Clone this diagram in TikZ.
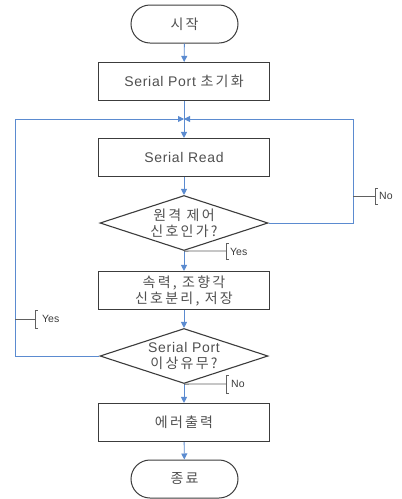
\documentclass[tikz,border=0pt]{standalone}
\usepackage{fontspec}
\setmainfont[LetterSpace=5]{Liberation Sans}
\newfontfamily\kr[LetterSpace=16]{Noto Sans CJK KR}
\newfontfamily\notefont{Liberation Sans}
\usetikzlibrary{arrows.meta,shapes.geometric,shapes.misc}
\definecolor{flowblue}{HTML}{5B8BD0}
\definecolor{edgegray}{HTML}{3C3C3C}
\definecolor{textgray}{HTML}{505050}
\definecolor{notegray}{HTML}{606060}
\tikzset{
  body/.style={font=\fontsize{14}{16}\selectfont, text=textgray, align=center, inner sep=0pt},
  stepbox/.style={body, draw=edgegray, line width=1.1pt, minimum width=171pt, minimum height=38pt},
  terminal/.style={body, draw=edgegray, line width=1pt, rounded rectangle, minimum width=107pt, minimum height=38pt},
  decision/.style={body, draw=edgegray, line width=1.1pt, diamond, aspect=3, minimum width=168pt, minimum height=55pt},
  flow/.style={draw=flowblue, line width=0.9pt, -{Triangle[length=6pt,width=6pt]}},
  flowline/.style={draw=flowblue, line width=0.9pt},
  note/.style={draw=notegray, line width=0.9pt},
  notetext/.style={font=\notefont\fontsize{10.5}{12}\selectfont, text=edgegray, inner sep=0pt, anchor=west}
}
\begin{document}
\begin{tikzpicture}[x=1pt,y=-1pt]
\useasboundingbox[fill=white] (0,0) rectangle (402,499);

% main column
\node[terminal] (start) at (184.5,24) {\kr 시작};
\node[stepbox] (init) at (184,81.5) {Serial Port {\kr 초기화}};
\coordinate (merge) at (184,119);
\node[stepbox] (read) at (184,157.5) {Serial Read};
\node[decision] (remote) at (184,223) {\kr 원격 제어\\\kr 신호인가?};
\node[stepbox] (split) at (184,290.5) {\kr 속력, 조향각\\\kr 신호분리, 저장};
\node[decision] (fault) at (184,356) {Serial Port\\{\kr 이상유무?}};
\node[stepbox] (err) at (184,422.5) {\kr 에러출력};
\node[terminal] (stop) at (184.5,479) {\kr 종료};

% loop corners
\coordinate (rtop) at (353,119);
\coordinate (ltop) at (15,119);

% connectors
\draw[flow] (start) -- (init);
\draw[flow] (init) -- (read);
\draw[flow] (read) -- (remote);
\draw[flow] (remote) -- (split);
\draw[flow] (split) -- (fault);
\draw[flow] (fault) -- (err);
\draw[flow] (err) -- (stop);
\draw[flowline] (remote.east) -| (rtop);
\draw[flow] (rtop) -- (merge);
\draw[flowline] (fault.west) -| (ltop);
\draw[flow] (ltop) -- (merge);

% branch notes
\coordinate (noA) at (353,196);
\coordinate (noAb) at (375,196);
\draw[note] (noA) -- (noAb);
\draw[note] ([xshift=3pt,yshift=-8pt]noAb) -- ([yshift=-8pt]noAb) -- ([yshift=8pt]noAb) -- ([xshift=3pt,yshift=8pt]noAb);
\node[notetext] (noAt) at (379,196) {No};

\coordinate (yesAb) at (226,251);
\draw[note] (remote.south) -- (yesAb);
\draw[note] ([xshift=3pt,yshift=-8pt]yesAb) -- ([yshift=-8pt]yesAb) -- ([yshift=8pt]yesAb) -- ([xshift=3pt,yshift=8pt]yesAb);
\node[notetext] (yesAt) at (230,252) {Yes};

\coordinate (yesB) at (15,319);
\coordinate (yesBb) at (35,319);
\draw[note] (yesB) -- (yesBb);
\draw[note] ([xshift=3pt,yshift=-9pt]yesBb) -- ([yshift=-9pt]yesBb) -- ([yshift=9pt]yesBb) -- ([xshift=3pt,yshift=9pt]yesBb);
\node[notetext] (yesBt) at (42,319) {Yes};

\coordinate (noBb) at (226,384);
\draw[note] (fault.south) -- (noBb);
\draw[note] ([xshift=3pt,yshift=-9pt]noBb) -- ([yshift=-9pt]noBb) -- ([yshift=9pt]noBb) -- ([xshift=3pt,yshift=9pt]noBb);
\node[notetext] (noBt) at (231,384) {No};
\end{tikzpicture}
\end{document}
